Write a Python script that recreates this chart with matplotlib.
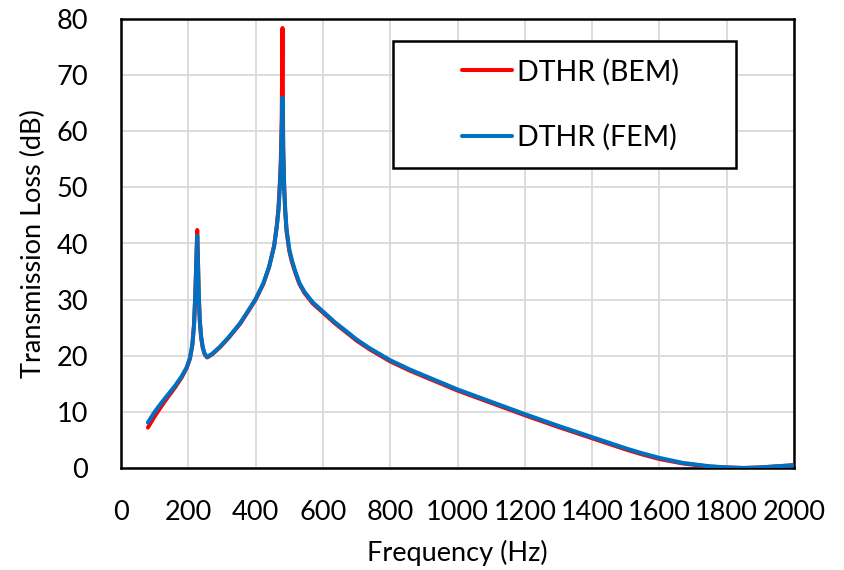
import matplotlib.pyplot as plt
from matplotlib.patches import Rectangle

# --- Data ---
freq_fem = [80, 100, 120, 140, 160, 180, 195, 205, 212, 217, 221, 224, 226.5, 229, 231,
            234, 238, 243, 249, 256, 270, 294, 320, 354, 380, 400, 423, 440, 455, 463,
            468, 472, 475, 477.5, 480, 482, 485, 488, 492, 500, 508, 517, 530, 545, 570,
            600, 635, 671, 700, 740, 800, 860, 928, 1000, 1100, 1200, 1300, 1400, 1450,
            1500, 1550, 1600, 1670, 1750, 1800, 1850, 1900, 1950, 2000]
tl_fem = [8.1, 10.0, 11.6, 13.1, 14.6, 16.3, 17.9, 19.6, 22.0, 25.5, 31.0, 37.0, 41.4, 36.0, 31.0,
          26.5, 23.5, 21.5, 20.3, 19.8, 20.3, 21.6, 23.3, 25.8, 28.2, 30.1, 32.9, 35.8, 39.5, 43.0,
          46.0, 50.2, 54.0, 59.7, 66.0, 57.0, 50.0, 46.0, 42.5, 39.0, 37.0, 35.2, 33.0, 31.4, 29.5,
          27.9, 26.0, 24.3, 22.9, 21.3, 19.2, 17.5, 15.8, 14.0, 11.8, 9.6, 7.5, 5.5, 4.5,
          3.5, 2.6, 1.8, 0.9, 0.3, 0.1, 0.0, 0.1, 0.3, 0.5]

freq_bem = [80, 100, 120, 140, 160, 180, 195, 205, 212, 217, 221, 224, 226.5, 229, 231,
            234, 238, 243, 249, 256, 270, 294, 320, 354, 380, 400, 423, 440, 455, 463,
            468, 472, 475, 477.5, 480, 482, 485, 488, 492, 500, 508, 517, 530, 545, 570,
            600, 635, 671, 700, 740, 800, 860, 928, 1000, 1100, 1200, 1300, 1400, 1450,
            1500, 1550, 1600, 1670, 1750, 1800, 1850, 1900, 1950, 2000]
tl_bem = [7.2, 9.2, 11.0, 12.7, 14.3, 16.1, 17.8, 19.5, 21.9, 25.5, 31.3, 37.5, 42.4, 36.3, 31.0,
          26.3, 23.3, 21.4, 20.2, 19.7, 20.2, 21.5, 23.2, 25.7, 28.1, 30.0, 32.8, 35.8, 39.6, 43.2,
          46.3, 50.6, 55.0, 62.0, 78.4, 57.3, 49.8, 45.7, 42.2, 38.7, 36.7, 35.0, 32.8, 31.2, 29.3,
          27.7, 25.8, 24.1, 22.7, 21.1, 19.0, 17.3, 15.6, 13.8, 11.6, 9.4, 7.3, 5.3, 4.3,
          3.3, 2.4, 1.6, 0.8, 0.25, 0.1, 0.0, 0.1, 0.3, 0.5]

x_ticks = [0, 200, 400, 600, 800, 1000, 1200, 1400, 1600, 1800, 2000]
y_ticks = [0, 10, 20, 30, 40, 50, 60, 70, 80]

plt.rcParams['font.family'] = ['Lato', 'DejaVu Sans']

fig = plt.figure(figsize=(8.44, 5.70), dpi=100)
ax = fig.add_axes([121 / 844, 1 - 468 / 570, 673 / 844, 449 / 570])

ax.plot(freq_bem, tl_bem, c='#FF0000', lw=2.9, label='DTHR (BEM)',
        solid_capstyle='round', solid_joinstyle='round', zorder=3)
ax.plot(freq_fem, tl_fem, c='#0070C0', lw=2.9, label='DTHR (FEM)',
        solid_capstyle='round', solid_joinstyle='round', zorder=4)

ax.set_xlim(0, 2000)
ax.set_ylim(0, 80)
ax.set_xticks(x_ticks)
ax.set_yticks(y_ticks)
ax.grid(True, color='#D9D9D9', lw=1.3)
ax.set_axisbelow(True)
ax.tick_params(length=0, labelsize=19.5)
ax.tick_params(axis='x', pad=23)
ax.tick_params(axis='y', pad=23.5)
for sp in ax.spines.values():
    sp.set_color('black')
    sp.set_linewidth(1.8)

ax.set_xlabel('Frequency (Hz)', fontsize=19.5, labelpad=11)
ax.set_ylabel('Transmission Loss (dB)', fontsize=19.5, labelpad=8)

# legend box drawn as a separate frame, legend text centred inside
ax.add_patch(Rectangle((0.404, 0.668), 0.51, 0.283, transform=ax.transAxes,
                       fill=True, facecolor='white', edgecolor='black', lw=1.8, zorder=5))
leg = ax.legend(loc='center', bbox_to_anchor=(0.413, 0.668, 0.51, 0.283), frameon=False,
                fontsize=20.5, handlelength=1.75, handletextpad=0.2, labelspacing=1.35)
leg.set_zorder(6)

fig.savefig('out.png', dpi=100)
